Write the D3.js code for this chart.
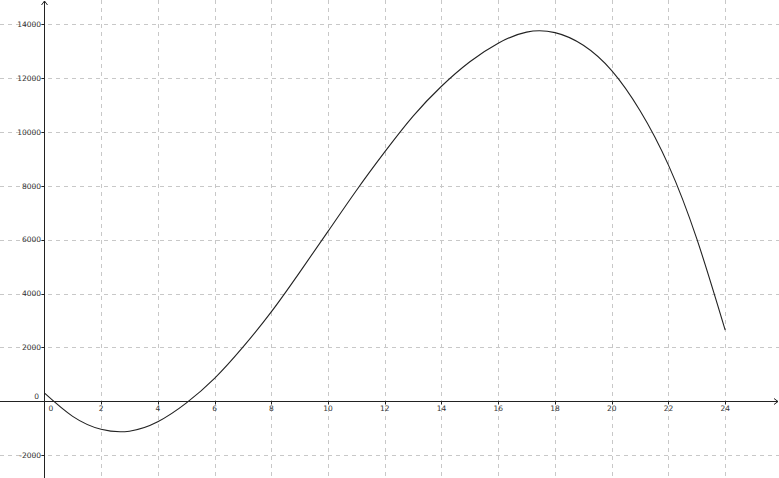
<!DOCTYPE html>
<html>
<head>
<meta charset="UTF-8">
<title></title>
<style>
  body { margin: 0; background: #fff; }
  .grid line { stroke: #c8c8c8; stroke-width: 1px; stroke-dasharray: 4,4; }
  .lbl { font-family: 'DejaVu Sans', sans-serif; font-size: 7.5px; fill: #333; }
</style>
</head>
<body>
<div id="container"></div>
<script src="https://d3js.org/d3.v7.min.js"></script>
<script>
  var width = 779, height = 478;

  // values
  var xs = [0, 1, 2, 3, 4, 5, 6, 7, 8, 9, 10, 11, 12, 13, 14, 15, 16, 17, 18, 19, 20, 21, 22, 23, 24];
  var ys = [310, -560, -1040, -1110, -760, -70, 850, 2010, 3320, 4790, 6310, 7830, 9260, 10590, 11700, 12610, 13300, 13710, 13690, 13220, 12280, 10790, 8770, 6030, 2640];
  var xTicks = [0, 2, 4, 6, 8, 10, 12, 14, 16, 18, 20, 22, 24];
  var yTicks = [-2000, 0, 2000, 4000, 6000, 8000, 10000, 12000, 14000];

  var x = d3.scaleLinear().domain([0, 24]).range([44.3, 725.2]);
  var y = d3.scaleLinear().domain([0, 14000]).range([401.3, 24.3]);

  var svg = d3.select("#container").append("svg")
    .attr("width", width).attr("height", height);

  // grid
  var grid = svg.append("g").attr("class", "grid");
  grid.selectAll(".v").data(xTicks.filter(function(d) { return d != 0; }))
    .enter().append("line")
      .attr("x1", function(d) { return Math.round(x(d)) + 0.5; })
      .attr("x2", function(d) { return Math.round(x(d)) + 0.5; })
      .attr("y1", 0).attr("y2", height);
  grid.selectAll(".h").data(yTicks.filter(function(d) { return d != 0; }))
    .enter().append("line")
      .attr("y1", function(d) { return Math.round(y(d)) + 0.5; })
      .attr("y2", function(d) { return Math.round(y(d)) + 0.5; })
      .attr("x1", 0).attr("x2", width);

  // axes
  var x0 = Math.round(x(0)) + 0.5, y0 = Math.round(y(0)) + 0.5;
  var ax = svg.append("g").attr("stroke", "#222").attr("stroke-width", 1).attr("fill", "none");
  ax.append("line").attr("x1", 0).attr("x2", width - 1).attr("y1", y0).attr("y2", y0);
  ax.append("line").attr("x1", x0).attr("x2", x0).attr("y1", 1).attr("y2", height);
  ax.append("path").attr("d", "M" + (width - 5) + "," + (y0 - 3) + "L" + (width - 1) + "," + y0 + "L" + (width - 5) + "," + (y0 + 3));
  ax.append("path").attr("d", "M" + (x0 - 3) + ",5L" + x0 + ",1L" + (x0 + 3) + ",5");

  // ticks
  ax.selectAll(".xt").data(xTicks.filter(function(d) { return d != 0; }))
    .enter().append("line")
      .attr("x1", function(d) { return Math.round(x(d)) + 0.5; })
      .attr("x2", function(d) { return Math.round(x(d)) + 0.5; })
      .attr("y1", y0).attr("y2", y0 + 3);
  ax.selectAll(".yt").data(yTicks.filter(function(d) { return d != 0; }))
    .enter().append("line")
      .attr("y1", function(d) { return Math.round(y(d)) + 0.5; })
      .attr("y2", function(d) { return Math.round(y(d)) + 0.5; })
      .attr("x1", x0 - 3).attr("x2", x0);

  // labels
  svg.selectAll(".xl").data(xTicks)
    .enter().append("text").attr("class", "lbl")
      .attr("x", function(d) { return d == 0 ? x(d) + 6.5 : x(d); })
      .attr("y", 411)
      .attr("text-anchor", "middle")
      .text(function(d) { return d; });
  svg.selectAll(".yl").data(yTicks)
    .enter().append("text").attr("class", "lbl")
      .attr("x", function(d) { return d == 0 ? 39 : 41 ; })
      .attr("y", function(d) { return d == 0 ? y(d) - 2.5 : y(d) + 2.7; })
      .attr("text-anchor", "end")
      .text(function(d) { return d; });

  // curve
  var line = d3.line()
    .x(function(d, i) { return x(xs[i]); })
    .y(function(d, i) { return y(ys[i]); })
    .curve(d3.curveNatural);
  svg.append("path")
    .attr("d", line(xs))
    .attr("fill", "none")
    .attr("stroke", "#222")
    .attr("stroke-width", 1.1);
</script>
</body>
</html>
